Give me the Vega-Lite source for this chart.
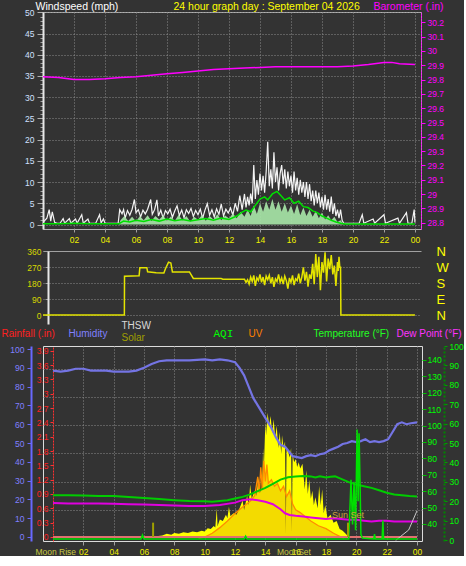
{
"$schema": "https://vega.github.io/schema/vega-lite/v6.json",
"background": "#333333",
"padding": 0,
"bounds": "flush",
"spacing": 22,
"config": {
  "view": {"stroke": null},
  "font": "Liberation Sans",
  "axis": {"labelFont": "Liberation Sans", "labelFontSize": 8.5, "titleFont": "Liberation Sans", "titleFontSize": 10, "titleFontWeight": "normal", "titleAngle": 0, "titleAlign": "left", "titleBaseline": "alphabetic", "labelOverlap": false, "labelFlush": false, "grid": false, "labelSeparation": 0}
},
"datasets": {
  "gust": [{"h":0,"v":0.5},{"h":0.25,"v":1.5},{"h":0.4,"v":3.5},{"h":0.5,"v":0.8},{"h":0.6,"v":3},{"h":0.75,"v":0.5},{"h":0.9,"v":0.3},{"h":1.1,"v":0.3},{"h":1.3,"v":1.4},{"h":1.4,"v":0.3},{"h":1.7,"v":1.4},{"h":1.8,"v":0.3},{"h":2.1,"v":1.3},{"h":2.2,"v":0.3},{"h":2.5,"v":2.3},{"h":2.6,"v":0.3},{"h":2.9,"v":1.3},{"h":3,"v":0.3},{"h":3.4,"v":0.3},{"h":3.65,"v":2.3},{"h":3.75,"v":0.4},{"h":3.9,"v":1.3},{"h":4,"v":0.3},{"h":4.85,"v":0.3},{"h":4.95,"v":3.5},{"h":5.1,"v":2.5},{"h":5.2,"v":3.5},{"h":5.3,"v":1.5},{"h":5.45,"v":3.3},{"h":5.6,"v":2.2},{"h":5.75,"v":3.6},{"h":5.9,"v":5.9},{"h":6,"v":2.8},{"h":6.15,"v":3.5},{"h":6.3,"v":1.8},{"h":6.45,"v":3.4},{"h":6.6,"v":2.5},{"h":6.75,"v":3.6},{"h":6.95,"v":5.9},{"h":7.05,"v":2.4},{"h":7.2,"v":3.5},{"h":7.35,"v":5.8},{"h":7.45,"v":2},{"h":7.6,"v":3.4},{"h":7.75,"v":1.5},{"h":7.9,"v":3.3},{"h":8.05,"v":2.5},{"h":8.2,"v":3.6},{"h":8.35,"v":1.7},{"h":8.5,"v":3.2},{"h":8.65,"v":4.4},{"h":8.8,"v":2.1},{"h":8.95,"v":3.4},{"h":9.1,"v":1.6},{"h":9.25,"v":3.5},{"h":9.4,"v":2.6},{"h":9.55,"v":3.8},{"h":9.7,"v":1.9},{"h":9.85,"v":3.3},{"h":10,"v":2.3},{"h":10.15,"v":3.6},{"h":10.3,"v":1.5},{"h":10.45,"v":3.4},{"h":10.6,"v":4.9},{"h":10.75,"v":2.2},{"h":10.9,"v":3.5},{"h":11.05,"v":1.8},{"h":11.2,"v":3.7},{"h":11.35,"v":2.4},{"h":11.5,"v":4.8},{"h":11.65,"v":2},{"h":11.8,"v":3.6},{"h":11.95,"v":2.7},{"h":12.1,"v":3.9},{"h":12.25,"v":2.2},{"h":12.4,"v":5},{"h":12.55,"v":3.1},{"h":12.7,"v":6.8},{"h":12.85,"v":3.5},{"h":13,"v":7.2},{"h":13.1,"v":4},{"h":13.2,"v":6.5},{"h":13.3,"v":4.5},{"h":13.4,"v":7.3},{"h":13.5,"v":5},{"h":13.6,"v":14},{"h":13.7,"v":6},{"h":13.8,"v":10.5},{"h":13.9,"v":7},{"h":14,"v":12},{"h":14.1,"v":8},{"h":14.2,"v":11.5},{"h":14.3,"v":7.5},{"h":14.4,"v":12.5},{"h":14.5,"v":19.5},{"h":14.6,"v":9},{"h":14.7,"v":13},{"h":14.8,"v":8.5},{"h":14.9,"v":17},{"h":15,"v":10},{"h":15.1,"v":13.5},{"h":15.2,"v":8},{"h":15.3,"v":12},{"h":15.4,"v":14},{"h":15.5,"v":9.5},{"h":15.6,"v":13},{"h":15.7,"v":8.5},{"h":15.8,"v":12.5},{"h":15.9,"v":9},{"h":16,"v":11.5},{"h":16.1,"v":7.5},{"h":16.2,"v":12.5},{"h":16.3,"v":8},{"h":16.4,"v":11},{"h":16.5,"v":7},{"h":16.6,"v":10.5},{"h":16.7,"v":7.5},{"h":16.8,"v":10},{"h":16.9,"v":6.5},{"h":17,"v":10},{"h":17.1,"v":6},{"h":17.2,"v":9.5},{"h":17.3,"v":5.5},{"h":17.4,"v":8},{"h":17.5,"v":4.5},{"h":17.6,"v":8},{"h":17.7,"v":5},{"h":17.8,"v":7.5},{"h":17.9,"v":4},{"h":18,"v":6.5},{"h":18.1,"v":3.5},{"h":18.2,"v":7},{"h":18.3,"v":3.5},{"h":18.4,"v":6},{"h":18.5,"v":3},{"h":18.6,"v":6.6},{"h":18.7,"v":2.5},{"h":18.8,"v":5},{"h":18.9,"v":2},{"h":19,"v":3.5},{"h":19.1,"v":1.5},{"h":19.2,"v":3.5},{"h":19.3,"v":1},{"h":19.4,"v":0.3},{"h":20.4,"v":0.3},{"h":20.6,"v":2.3},{"h":20.7,"v":0.3},{"h":21.3,"v":1.3},{"h":21.4,"v":0.3},{"h":22,"v":2.3},{"h":22.1,"v":0.3},{"h":22.9,"v":1.5},{"h":23,"v":0.3},{"h":23.45,"v":2.8},{"h":23.55,"v":0.3},{"h":23.8,"v":0.3},{"h":23.95,"v":3.5},{"h":24,"v":0.5}],
  "pale": [{"h":0,"v":0},{"h":4.9,"v":0},{"h":5,"v":1},{"h":5.25,"v":2},{"h":5.5,"v":0.8},{"h":5.75,"v":1.8},{"h":6,"v":0.7},{"h":6.25,"v":2},{"h":6.5,"v":1},{"h":6.75,"v":2.2},{"h":7,"v":0.8},{"h":7.25,"v":2},{"h":7.5,"v":1.2},{"h":7.75,"v":2.1},{"h":8,"v":0.9},{"h":8.25,"v":1.9},{"h":8.5,"v":0.8},{"h":8.75,"v":2.3},{"h":9,"v":1},{"h":9.25,"v":2},{"h":9.5,"v":0.7},{"h":9.75,"v":1.8},{"h":10,"v":1.1},{"h":10.25,"v":2.2},{"h":10.5,"v":0.9},{"h":10.75,"v":2},{"h":11,"v":1.2},{"h":11.25,"v":2.4},{"h":11.5,"v":1},{"h":11.75,"v":2.1},{"h":12,"v":1.4},{"h":12.25,"v":2.6},{"h":12.5,"v":1.5},{"h":12.75,"v":3},{"h":13,"v":1.8},{"h":13.2,"v":3.5},{"h":13.4,"v":2},{"h":13.6,"v":4.5},{"h":13.8,"v":2.5},{"h":14,"v":5},{"h":14.2,"v":3},{"h":14.4,"v":5.5},{"h":14.6,"v":3.5},{"h":14.8,"v":6},{"h":15,"v":3.5},{"h":15.2,"v":5.5},{"h":15.4,"v":3},{"h":15.6,"v":5},{"h":15.8,"v":2.8},{"h":16,"v":4.5},{"h":16.2,"v":2.5},{"h":16.4,"v":4.8},{"h":16.6,"v":2.2},{"h":16.8,"v":4},{"h":17,"v":2},{"h":17.2,"v":3.5},{"h":17.4,"v":1.8},{"h":17.6,"v":3.2},{"h":17.8,"v":1.5},{"h":18,"v":2.8},{"h":18.2,"v":1.2},{"h":18.4,"v":2.2},{"h":18.6,"v":1},{"h":18.8,"v":1.8},{"h":19,"v":0.6},{"h":19.2,"v":1},{"h":19.4,"v":0},{"h":24,"v":0}],
  "avg": [{"h":0,"v":0.2},{"h":1,"v":0.2},{"h":2,"v":0.3},{"h":3,"v":0.2},{"h":4,"v":0.2},{"h":4.9,"v":0.2},{"h":5.2,"v":0.8},{"h":5.6,"v":0.6},{"h":6,"v":1},{"h":6.5,"v":0.7},{"h":7,"v":1.2},{"h":7.5,"v":0.8},{"h":8,"v":1.3},{"h":8.5,"v":0.9},{"h":9,"v":1.2},{"h":9.5,"v":0.8},{"h":10,"v":1.1},{"h":10.5,"v":1.4},{"h":11,"v":1},{"h":11.5,"v":1.5},{"h":12,"v":1.2},{"h":12.5,"v":2},{"h":12.8,"v":2.8},{"h":13.1,"v":3.4},{"h":13.4,"v":3},{"h":13.7,"v":4.5},{"h":14,"v":6},{"h":14.3,"v":6.5},{"h":14.5,"v":5.8},{"h":14.8,"v":7.2},{"h":15.1,"v":7.8},{"h":15.3,"v":7},{"h":15.6,"v":5.8},{"h":15.9,"v":6.3},{"h":16.2,"v":5},{"h":16.5,"v":5.5},{"h":16.8,"v":4.2},{"h":17.1,"v":4},{"h":17.4,"v":3.2},{"h":17.7,"v":2.8},{"h":18,"v":2},{"h":18.3,"v":1.5},{"h":18.6,"v":1},{"h":18.9,"v":0.6},{"h":19.2,"v":0.3},{"h":19.5,"v":0.1},{"h":24,"v":0.1}],
  "baro": [{"h":0,"v":29.82},{"h":1,"v":29.815},{"h":2,"v":29.8},{"h":3,"v":29.8},{"h":4,"v":29.805},{"h":5,"v":29.815},{"h":6,"v":29.82},{"h":7,"v":29.83},{"h":8,"v":29.84},{"h":9,"v":29.85},{"h":10,"v":29.86},{"h":11,"v":29.87},{"h":12,"v":29.875},{"h":13,"v":29.88},{"h":14,"v":29.885},{"h":15,"v":29.89},{"h":16,"v":29.89},{"h":17,"v":29.89},{"h":18,"v":29.89},{"h":19,"v":29.89},{"h":20,"v":29.895},{"h":21,"v":29.905},{"h":22,"v":29.92},{"h":22.5,"v":29.92},{"h":23,"v":29.91},{"h":24,"v":29.905}],
  "dir": [{"h":0,"v":0},{"h":5.25,"v":0},{"h":5.26,"v":220},{"h":6.2,"v":222},{"h":6.25,"v":268},{"h":6.7,"v":268},{"h":6.75,"v":245},{"h":7.3,"v":240},{"h":7.8,"v":238},{"h":7.9,"v":262},{"h":8.1,"v":300},{"h":8.25,"v":295},{"h":8.35,"v":244},{"h":9.45,"v":244},{"h":9.7,"v":207},{"h":11.5,"v":207},{"h":11.6,"v":203},{"h":13,"v":203},{"h":13.1,"v":185},{"h":13.2,"v":200},{"h":13.3,"v":175},{"h":13.4,"v":215},{"h":13.5,"v":190},{"h":13.6,"v":225},{"h":13.7,"v":165},{"h":13.8,"v":210},{"h":13.9,"v":195},{"h":14,"v":230},{"h":14.1,"v":185},{"h":14.2,"v":215},{"h":14.3,"v":170},{"h":14.4,"v":220},{"h":14.5,"v":200},{"h":14.6,"v":225},{"h":14.7,"v":180},{"h":14.8,"v":215},{"h":14.9,"v":160},{"h":15,"v":205},{"h":15.1,"v":190},{"h":15.2,"v":230},{"h":15.3,"v":185},{"h":15.4,"v":210},{"h":15.5,"v":175},{"h":15.6,"v":220},{"h":15.7,"v":195},{"h":15.8,"v":150},{"h":15.9,"v":210},{"h":16,"v":185},{"h":16.1,"v":225},{"h":16.2,"v":170},{"h":16.3,"v":205},{"h":16.4,"v":195},{"h":16.5,"v":235},{"h":16.6,"v":180},{"h":16.7,"v":215},{"h":16.8,"v":270},{"h":16.9,"v":195},{"h":17,"v":245},{"h":17.1,"v":160},{"h":17.2,"v":230},{"h":17.3,"v":205},{"h":17.4,"v":290},{"h":17.5,"v":175},{"h":17.6,"v":345},{"h":17.7,"v":215},{"h":17.8,"v":330},{"h":17.9,"v":140},{"h":18,"v":300},{"h":18.1,"v":240},{"h":18.2,"v":355},{"h":18.3,"v":190},{"h":18.4,"v":320},{"h":18.5,"v":260},{"h":18.6,"v":340},{"h":18.7,"v":230},{"h":18.8,"v":280},{"h":18.9,"v":165},{"h":19,"v":300},{"h":19.05,"v":250},{"h":19.1,"v":330},{"h":19.15,"v":270},{"h":19.2,"v":270},{"h":19.22,"v":0},{"h":24,"v":0}],
  "hum": [{"h":0,"v":88.5},{"h":0.5,"v":88},{"h":1,"v":88.5},{"h":1.5,"v":89.5},{"h":2,"v":89.5},{"h":2.5,"v":88.5},{"h":3,"v":88.5},{"h":3.5,"v":88.5},{"h":4,"v":88},{"h":5,"v":88},{"h":5.5,"v":88.5},{"h":6,"v":90},{"h":6.5,"v":92},{"h":7,"v":93.5},{"h":7.5,"v":94},{"h":8,"v":94},{"h":9,"v":94},{"h":10,"v":94.5},{"h":10.5,"v":94},{"h":11,"v":94.5},{"h":11.5,"v":94},{"h":12,"v":93},{"h":12.3,"v":90},{"h":12.6,"v":86},{"h":12.9,"v":80},{"h":13.2,"v":74},{"h":13.5,"v":70},{"h":13.8,"v":66},{"h":14.1,"v":62},{"h":14.4,"v":58},{"h":14.7,"v":53},{"h":15,"v":49},{"h":15.3,"v":48},{"h":15.5,"v":46},{"h":15.8,"v":43},{"h":16.1,"v":42.5},{"h":16.4,"v":42},{"h":16.7,"v":43},{"h":17,"v":43.5},{"h":17.3,"v":43},{"h":17.6,"v":44},{"h":17.9,"v":44.5},{"h":18.2,"v":46},{"h":18.5,"v":47},{"h":18.8,"v":48},{"h":19.1,"v":49.5},{"h":19.4,"v":50},{"h":19.7,"v":51},{"h":20,"v":50.5},{"h":20.3,"v":51},{"h":20.6,"v":52},{"h":20.9,"v":50.5},{"h":21.2,"v":51},{"h":21.5,"v":50.5},{"h":21.8,"v":51},{"h":22.1,"v":52},{"h":22.4,"v":56},{"h":22.7,"v":60},{"h":23,"v":61},{"h":23.3,"v":60},{"h":23.6,"v":60.5},{"h":24,"v":61}],
  "temp": [{"h":0,"v":57.5},{"h":1,"v":57.5},{"h":2,"v":57.3},{"h":3,"v":57},{"h":4,"v":57},{"h":5,"v":56.5},{"h":6,"v":55.8},{"h":7,"v":55.2},{"h":8,"v":54.5},{"h":9,"v":54},{"h":10,"v":53.8},{"h":10.5,"v":53.6},{"h":11,"v":54},{"h":11.5,"v":54.5},{"h":12,"v":55.5},{"h":12.5,"v":56.5},{"h":13,"v":58},{"h":13.5,"v":60},{"h":14,"v":62},{"h":14.5,"v":64.5},{"h":15,"v":67},{"h":15.5,"v":68.5},{"h":16,"v":69},{"h":16.5,"v":69.3},{"h":17,"v":69},{"h":17.3,"v":68.3},{"h":17.6,"v":69},{"h":18,"v":68.3},{"h":18.3,"v":68.8},{"h":18.6,"v":69},{"h":19,"v":67.5},{"h":19.5,"v":65.5},{"h":20,"v":64},{"h":20.5,"v":63},{"h":21,"v":62},{"h":21.5,"v":60.5},{"h":22,"v":59},{"h":22.5,"v":58},{"h":23,"v":57.5},{"h":23.5,"v":57},{"h":24,"v":56.8}],
  "dew": [{"h":0,"v":52.8},{"h":1,"v":52.5},{"h":2,"v":52.5},{"h":3,"v":52.5},{"h":4,"v":52.3},{"h":5,"v":52},{"h":6,"v":51.8},{"h":7,"v":51.5},{"h":8,"v":51.2},{"h":9,"v":51},{"h":10,"v":51},{"h":11,"v":51.5},{"h":12,"v":53},{"h":12.5,"v":54.5},{"h":13,"v":55},{"h":13.5,"v":54.5},{"h":14,"v":53.5},{"h":14.5,"v":52},{"h":15,"v":49},{"h":15.3,"v":46.5},{"h":15.6,"v":45.5},{"h":16,"v":45},{"h":16.5,"v":44.5},{"h":17,"v":44},{"h":17.5,"v":43.5},{"h":18,"v":43},{"h":18.5,"v":43.5},{"h":19,"v":43},{"h":19.5,"v":42.5},{"h":20,"v":42.5},{"h":20.5,"v":42},{"h":21,"v":41.5},{"h":21.5,"v":42},{"h":22,"v":42},{"h":22.5,"v":41.5},{"h":23,"v":41.5},{"h":24,"v":41.5}],
  "solar": [{"h":6.6,"v":0},{"h":6.8,"v":5},{"h":7.2,"v":10},{"h":7.5,"v":20},{"h":7.8,"v":15},{"h":8,"v":25},{"h":8.3,"v":20},{"h":8.6,"v":30},{"h":8.9,"v":25},{"h":9.2,"v":35},{"h":9.5,"v":30},{"h":9.8,"v":40},{"h":10,"v":35},{"h":10.2,"v":55},{"h":10.4,"v":50},{"h":10.6,"v":70},{"h":10.7,"v":60},{"h":10.8,"v":180},{"h":10.85,"v":70},{"h":11,"v":110},{"h":11.2,"v":100},{"h":11.4,"v":140},{"h":11.5,"v":120},{"h":11.6,"v":190},{"h":11.7,"v":130},{"h":11.9,"v":150},{"h":12.1,"v":140},{"h":12.3,"v":180},{"h":12.5,"v":230},{"h":12.6,"v":170},{"h":12.8,"v":260},{"h":12.9,"v":200},{"h":13,"v":330},{"h":13.1,"v":240},{"h":13.3,"v":290},{"h":13.4,"v":260},{"h":13.55,"v":370},{"h":13.65,"v":280},{"h":13.8,"v":320},{"h":13.85,"v":560},{"h":13.9,"v":420},{"h":14,"v":720},{"h":14.05,"v":640},{"h":14.15,"v":780},{"h":14.25,"v":700},{"h":14.35,"v":760},{"h":14.45,"v":650},{"h":14.55,"v":740},{"h":14.65,"v":620},{"h":14.75,"v":700},{"h":14.85,"v":560},{"h":14.95,"v":660},{"h":15.05,"v":520},{"h":15.1,"v":640},{"h":15.2,"v":560},{"h":15.3,"v":600},{"h":15.35,"v":20},{"h":15.4,"v":560},{"h":15.5,"v":540},{"h":15.6,"v":500},{"h":15.7,"v":560},{"h":15.75,"v":30},{"h":15.8,"v":520},{"h":15.9,"v":470},{"h":16,"v":490},{"h":16.1,"v":440},{"h":16.2,"v":470},{"h":16.3,"v":430},{"h":16.45,"v":460},{"h":16.6,"v":300},{"h":16.7,"v":420},{"h":16.8,"v":270},{"h":16.9,"v":360},{"h":17,"v":240},{"h":17.1,"v":290},{"h":17.2,"v":200},{"h":17.3,"v":250},{"h":17.45,"v":180},{"h":17.55,"v":320},{"h":17.65,"v":200},{"h":17.75,"v":300},{"h":17.85,"v":150},{"h":17.95,"v":200},{"h":18.1,"v":120},{"h":18.3,"v":140},{"h":18.5,"v":90},{"h":18.7,"v":100},{"h":18.9,"v":50},{"h":19.1,"v":40},{"h":19.3,"v":20},{"h":19.5,"v":0}],
  "uv": [{"h":9.6,"v":0},{"h":10,"v":0.1},{"h":10.5,"v":0.5},{"h":11,"v":1.1},{"h":11.5,"v":1.8},{"h":12,"v":2.6},{"h":12.5,"v":3.3},{"h":13,"v":3.9},{"h":13.3,"v":4.5},{"h":13.5,"v":6.5},{"h":13.6,"v":4.8},{"h":13.7,"v":7.5},{"h":13.8,"v":5.2},{"h":13.9,"v":8.2},{"h":14,"v":6},{"h":14.1,"v":7.8},{"h":14.2,"v":5.8},{"h":14.4,"v":6.2},{"h":14.6,"v":5.5},{"h":14.8,"v":5.8},{"h":15,"v":5},{"h":15.2,"v":5.5},{"h":15.4,"v":4.4},{"h":15.6,"v":5},{"h":15.8,"v":3.6},{"h":16,"v":3},{"h":16.3,"v":2.7},{"h":16.6,"v":2.3},{"h":17,"v":1.8},{"h":17.5,"v":1.3},{"h":18,"v":1},{"h":18.5,"v":0.5},{"h":19,"v":0.1},{"h":19.2,"v":0}],
  "aqi": [{"h":0,"v":0.5},{"h":5.8,"v":0.5},{"h":5.9,"v":2.5},{"h":6,"v":0.5},{"h":12.6,"v":0.5},{"h":12.7,"v":2},{"h":12.8,"v":0.5},{"h":19.5,"v":0.5},{"h":19.65,"v":31},{"h":19.75,"v":8},{"h":19.85,"v":30},{"h":19.95,"v":5},{"h":20.05,"v":57},{"h":20.12,"v":20},{"h":20.18,"v":55},{"h":20.25,"v":28},{"h":20.3,"v":3},{"h":20.4,"v":1},{"h":21.15,"v":0.5},{"h":21.2,"v":3},{"h":21.25,"v":0.5},{"h":21.7,"v":0.5},{"h":21.75,"v":10},{"h":21.8,"v":0.5},{"h":24,"v":0.5}],
  "rain": [{"h":0,"v":0},{"h":24,"v":0}],
  "thsw": [{"h":22.6,"v":30},{"h":23.45,"v":36.3},{"h":24,"v":48}],
  "sun": [{"h":6.6,"event":"Sunrise","label":""},{"h":19.45,"event":"Sunset","label":"Sun Set"}]
},
"vconcat": [
{
  "width": 378, "height": 217,
  "view": {"stroke": "#b0b0b0"},
  "resolve": {"scale": {"y": "independent"}, "axis": {"y": "independent", "x": "independent"}},
  "layer": [
    {"data": {"name": "gust"}, "mark": {"type": "line", "color": "#f4f4f4", "strokeWidth": 1.2, "clip": true},
     "encoding": {
       "x": {"field": "h", "type": "quantitative", "scale": {"domain": [0, 24.39], "nice": false, "zero": false},
             "axis": {"orient": "bottom", "values": [2,4,6,8,10,12,14,16,18,20,22,24], "labelExpr": "datum.value == 24 ? '00' : (datum.value < 10 ? '0' + datum.value : '' + datum.value)", "labelOverlap": false, "labelFlush": false, "labelBound": false, "labelColor": "#f0f000", "labelPadding": 3, "tickSize": 3, "tickColor": "#a0a0a0", "domain": false, "grid": true, "gridColor": "#8c8c8c", "gridDash": [1,2], "title": null}},
       "y": {"field": "v", "type": "quantitative", "scale": {"domain": [-1.06, 50.07], "nice": false, "zero": false},
             "axis": {"orient": "left", "labels": false, "ticks": false, "domain": false, "grid": false, "title": "24 hour graph day : September 04 2026", "titleColor": "#ffff00", "titleFontSize": 10.5, "titleX": 130, "titleY": -3, "titleAngle": 0}}
     }},
    {"data": {"name": "pale"}, "mark": {"type": "area", "color": "#a8e8a8", "opacity": 0.9, "clip": true},
     "encoding": {
       "x": {"field": "h", "type": "quantitative", "scale": {"domain": [0, 24.39], "nice": false, "zero": false}, "axis": null},
       "y": {"field": "v", "type": "quantitative", "scale": {"domain": [-1.06, 50.07], "nice": false, "zero": false},
             "axis": {"orient": "left", "values": [0,1,2,3,4,5,6,7,8,9,10,11,12,13,14,15,16,17,18,19,20,21,22,23,24,25,26,27,28,29,30,31,32,33,34,35,36,37,38,39,40,41,42,43,44,45,46,47,48,49,50], "labels": false, "domain": false, "grid": false, "tickSize": 3, "tickColor": "#a0a0a0", "title": null}}
     }},
    {"data": {"name": "avg"}, "mark": {"type": "line", "color": "#00e000", "strokeWidth": 1.5, "clip": true},
     "encoding": {
       "x": {"field": "h", "type": "quantitative", "scale": {"domain": [0, 24.39], "nice": false, "zero": false}, "axis": null},
       "y": {"field": "v", "type": "quantitative", "scale": {"domain": [-1.06, 50.07], "nice": false, "zero": false},
             "axis": {"orient": "left", "values": [0,5,10,15,20,25,30,35,40,45,50], "grid": true, "gridColor": "#8c8c8c", "gridDash": [1,2], "domainColor": "#e8e8e8", "domainWidth": 2, "tickColor": "#b0b0b0", "tickSize": 6, "labelColor": "#d0e0ff", "labelPadding": 3, "title": "Windspeed (mph)", "titleColor": "#ffffff", "titleFontSize": 10.5, "titleX": -8, "titleY": -3, "titleAngle": 0}}
     }},
    {"data": {"name": "baro"}, "mark": {"type": "line", "color": "#ff00ff", "strokeWidth": 1.5, "clip": true},
     "encoding": {
       "x": {"field": "h", "type": "quantitative", "scale": {"domain": [0, 24.39], "nice": false, "zero": false}, "axis": null},
       "y": {"field": "v", "type": "quantitative", "scale": {"domain": [28.756, 30.272], "nice": false, "zero": false},
             "axis": {"orient": "right", "values": [28.8,28.9,29,29.1,29.2,29.3,29.4,29.5,29.6,29.7,29.8,29.9,30,30.1,30.2], "format": "~g", "labelColor": "#ff00ff", "domainColor": "#ff00ff", "domainDash": [2,1], "tickColor": "#ff00ff", "tickSize": 4, "labelPadding": 2, "grid": false, "title": "Barometer (.in)", "titleColor": "#ff00ff", "titleFontSize": 10.5, "titleX": -48, "titleY": -3, "titleAngle": 0}}
     }}
  ]
},
{
  "width": 378, "height": 73,
  "resolve": {"scale": {"y": "independent"}, "axis": {"y": "independent"}},
  "layer": [
    {"data": {"name": "dir"}, "mark": {"type": "line", "color": "#e4e400", "strokeWidth": 1.5, "clip": true},
     "encoding": {
       "x": {"field": "h", "type": "quantitative", "scale": {"domain": [0, 24.39], "nice": false, "zero": false},
             "axis": {"orient": "top", "labels": false, "ticks": false, "grid": false, "domainColor": "#a0a0a0", "title": null}},
       "y": {"field": "v", "type": "quantitative", "scale": {"domain": [-51, 362.8], "nice": false, "zero": false},
             "axis": {"orient": "left", "values": [0,90,180,270,360], "offset": -5, "grid": true, "gridColor": "#8c8c8c", "gridDash": [1,2], "domainColor": "#e8e8e8", "domainWidth": 2, "tickColor": "#a0a0a0", "tickSize": 3, "labelPadding": 4, "labelColor": "#d8d800", "title": null}}
     }},
    {"data": {"name": "dir"}, "mark": {"type": "line", "strokeOpacity": 0},
     "encoding": {
       "x": {"field": "h", "type": "quantitative", "scale": {"domain": [0, 24.39], "nice": false, "zero": false}},
       "y": {"field": "v", "type": "quantitative", "scale": {"domain": [-51, 362.8], "nice": false, "zero": false},
             "axis": {"orient": "right", "values": [0,90,180,270,360], "labelExpr": "datum.value == 0 || datum.value == 360 ? 'N' : datum.value == 90 ? 'E' : datum.value == 180 ? 'S' : 'W'", "labelFont": "Liberation Sans", "labelFontSize": 13, "labelColor": "#ffff00", "labelPadding": 15, "ticks": false, "domain": false, "grid": false, "title": null}}
     }}
  ]
},
{
  "width": 379, "height": 195,
  "view": {"stroke": "#dcdcdc"},
  "resolve": {"scale": {"y": "independent"}, "axis": {"y": "independent", "x": "independent"}},
  "layer": [
    {"data": {"name": "solar"}, "mark": {"type": "area", "color": "#ffff00", "clip": true},
     "encoding": {
       "x": {"field": "h", "type": "quantitative", "scale": {"domain": [-0.66, 24.33], "nice": false, "zero": false},
             "axis": {"orient": "bottom", "values": [2,4,6,8,10,12,14,16,18,20,22,24],
                      "labelExpr": "datum.value == 24 ? '00' : (datum.value < 10 ? '0' + datum.value : '' + datum.value)",
                      "labelOverlap": false, "labelFlush": false, "labelBound": false, "labelColor": "#f0f000",
                      "grid": true, "gridColor": "#8c8c8c", "gridDash": [1,2], "tickSize": 4, "tickColor": "#a0a0a0", "labelPadding": 2, "domain": false, "title": null}},
       "y": {"field": "v", "type": "quantitative", "scale": {"domain": [-25, 1200], "nice": false, "zero": false},
             "axis": {"orient": "left", "labels": false, "ticks": false, "domain": false, "grid": false, "title": "Solar", "titleColor": "#a0a000", "titleX": 78, "titleY": -6, "titleAngle": 0}}
     }},
    {"data": {"name": "uv"}, "mark": {"type": "area", "color": "#d07000", "opacity": 0.25, "clip": true},
     "encoding": {
       "x": {"field": "h", "type": "quantitative", "scale": {"domain": [-0.66, 24.33], "nice": false, "zero": false},
             "axis": {"orient": "bottom", "values": [0.15, 15.85], "labelExpr": "datum.value < 1 ? 'Moon Rise' : 'MoonSet'", "labelOverlap": false, "labelFlush": false, "labelBound": false, "labelColor": "#c8c840", "ticks": false, "grid": false, "domain": false, "labelPadding": 6, "title": null}},
       "y": {"field": "v", "type": "quantitative", "scale": {"domain": [-0.32, 20.4], "nice": false, "zero": false},
             "axis": {"orient": "left", "values": [3,6,9,12,15,18], "labels": false, "ticks": false, "domain": false, "grid": true, "gridColor": "#8c8c8c", "gridDash": [1,2], "title": "UV", "titleColor": "#ff8000", "titleX": 205, "titleY": -10, "titleAngle": 0}}
     }},
    {"data": {"name": "uv"}, "mark": {"type": "line", "color": "#ff8c00", "strokeWidth": 1.3, "clip": true},
     "encoding": {
       "x": {"field": "h", "type": "quantitative", "scale": {"domain": [-0.66, 24.33], "nice": false, "zero": false}, "axis": null},
       "y": {"field": "v", "type": "quantitative", "scale": {"domain": [-0.32, 20.4], "nice": false, "zero": false}, "axis": null}
     }},
    {"data": {"name": "rain"}, "mark": {"type": "line", "color": "#e07070", "strokeWidth": 2, "clip": true},
     "encoding": {
       "x": {"field": "h", "type": "quantitative", "scale": {"domain": [-0.66, 24.33], "nice": false, "zero": false}, "axis": null},
       "y": {"field": "v", "type": "quantitative", "scale": {"domain": [-0.084, 3.998], "nice": false, "zero": false},
             "axis": {"orient": "left", "offset": -10, "values": [0,0.3,0.6,0.9,1.2,1.5,1.8,2.1,2.4,2.7,3,3.3,3.6,3.9], "format": "~g", "labelColor": "#ff2020", "domainColor": "#ff3030", "domainDash": [2,1], "tickColor": "#ff3030", "tickSize": 3, "labelPadding": 2, "grid": false, "title": "Rainfall (.in)", "titleColor": "#ff2020", "titleX": -52, "titleY": -10, "titleAngle": 0}}
     }},
    {"data": {"name": "hum"}, "mark": {"type": "line", "color": "#7474e4", "strokeWidth": 2.2, "clip": true},
     "encoding": {
       "x": {"field": "h", "type": "quantitative", "scale": {"domain": [-0.66, 24.33], "nice": false, "zero": false}, "axis": null},
       "y": {"field": "v", "type": "quantitative", "scale": {"domain": [-2.13, 101.6], "nice": false, "zero": false},
             "axis": {"orient": "left", "offset": 12, "values": [0,10,20,30,40,50,60,70,80,90,100], "labelColor": "#8080ff", "domainColor": "#6868ff", "domainWidth": 2, "tickColor": "#6868ff", "tickSize": 4, "labelPadding": 3, "grid": false, "title": "Humidity", "titleColor": "#8080ff", "titleX": 37, "titleY": -10, "titleAngle": 0}}
     }},
    {"data": {"name": "temp"}, "mark": {"type": "line", "color": "#00cc00", "strokeWidth": 2, "clip": true},
     "encoding": {
       "x": {"field": "h", "type": "quantitative", "scale": {"domain": [-0.66, 24.33], "nice": false, "zero": false}, "axis": null},
       "y": {"field": "v", "type": "quantitative", "scale": {"domain": [29.6, 148.5], "nice": false, "zero": false},
             "axis": {"orient": "right", "values": [40,50,60,70,80,90,100,110,120,130,140], "labelColor": "#00ff00", "domain": false, "tickColor": "#00c000", "tickSize": 4, "labelPadding": 1, "grid": false, "title": "Temperature (°F)", "titleColor": "#22ff22", "titleX": -109, "titleY": -10, "titleAngle": 0}}
     }},
    {"data": {"name": "dew"}, "mark": {"type": "line", "color": "#e000e0", "strokeWidth": 2, "clip": true},
     "encoding": {
       "x": {"field": "h", "type": "quantitative", "scale": {"domain": [-0.66, 24.33], "nice": false, "zero": false}, "axis": null},
       "y": {"field": "v", "type": "quantitative", "scale": {"domain": [29.6, 148.5], "nice": false, "zero": false},
             "axis": {"orient": "right", "labels": false, "ticks": false, "domain": false, "grid": false, "title": "Dew Point (°F)", "titleColor": "#ff33ff", "titleX": -26, "titleY": -10, "titleAngle": 0}}
     }},
    {"data": {"name": "thsw"}, "mark": {"type": "line", "color": "#c8c8c8", "strokeWidth": 1, "clip": true},
     "encoding": {
       "x": {"field": "h", "type": "quantitative", "scale": {"domain": [-0.66, 24.33], "nice": false, "zero": false}, "axis": null},
       "y": {"field": "v", "type": "quantitative", "scale": {"domain": [29.6, 148.5], "nice": false, "zero": false},
             "axis": {"orient": "left", "labels": false, "ticks": false, "domain": false, "grid": false, "title": "THSW", "titleColor": "#d8d8d8", "titleX": 78, "titleY": -18, "titleAngle": 0}}
     }},
    {"data": {"name": "aqi"}, "mark": {"type": "line", "color": "#00e000", "strokeWidth": 1.5, "clip": true},
     "encoding": {
       "x": {"field": "h", "type": "quantitative", "scale": {"domain": [-0.66, 24.33], "nice": false, "zero": false}, "axis": null},
       "y": {"field": "v", "type": "quantitative", "scale": {"domain": [-0.5, 100], "nice": false, "zero": false},
             "axis": {"orient": "right", "offset": 22, "values": [0,10,20,30,40,50,60,70,80,90,100], "labelColor": "#00ff00", "domainColor": "#008800", "domainDash": [2,2], "domainWidth": 2, "tickColor": "#00a000", "tickSize": 3, "labelPadding": 2, "grid": false, "title": "AQI", "titleFont": "Liberation Mono", "titleFontSize": 11, "titleColor": "#00ff00", "titleX": -231, "titleY": -10, "titleAngle": 0}}
     }},
    {"data": {"name": "sun"}, "mark": {"type": "rule", "color": "#a0a000", "strokeWidth": 2},
     "encoding": {
       "x": {"field": "h", "type": "quantitative", "scale": {"domain": [-0.66, 24.33], "nice": false, "zero": false}, "axis": null},
       "y": {"datum": 0, "type": "quantitative", "scale": {"domain": [-0.084, 3.998], "nice": false, "zero": false}, "axis": null},
       "y2": {"datum": 0.3}
     }},
    {"data": {"name": "sun"}, "mark": {"type": "text", "color": "#d0a040", "fontSize": 9, "baseline": "alphabetic", "align": "center"},
     "encoding": {
       "x": {"field": "h", "type": "quantitative", "scale": {"domain": [-0.66, 24.33], "nice": false, "zero": false}, "axis": null},
       "y": {"datum": 0.4, "type": "quantitative", "scale": {"domain": [-0.084, 3.998], "nice": false, "zero": false}, "axis": null},
       "text": {"field": "label"}
     }}
  ]
}
]
}
